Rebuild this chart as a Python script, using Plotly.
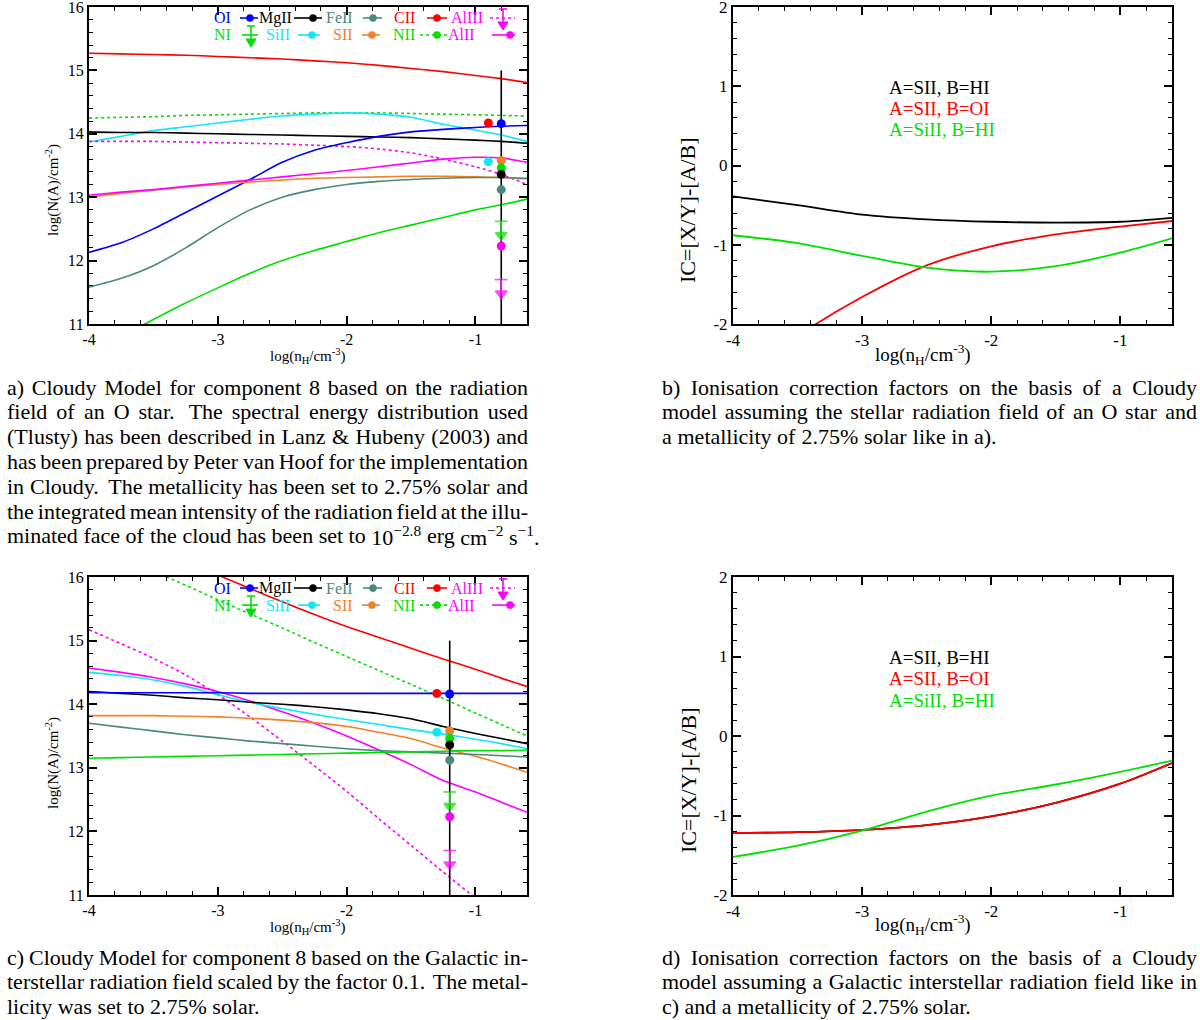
import json
import plotly.graph_objects as go

SERIF = "Liberation Serif"
W, H = 1200, 1020

# ---------------- data ----------------
grid = [-4.0, -3.75, -3.5, -3.25, -3.0, -2.75, -2.5, -2.25, -2.0, -1.75, -1.5, -1.25, -1.0, -0.8, -0.6]

# a) O star radiation field, log N(A)
a_OI = [12.13, 12.28, 12.50, 12.76, 13.02, 13.28, 13.55, 13.74, 13.86, 13.96, 14.03, 14.07, 14.10, 14.12, 14.13]
a_MgII = [14.03, 14.02, 14.02, 14.01, 14.00, 13.99, 13.98, 13.97, 13.96, 13.95, 13.94, 13.92, 13.90, 13.88, 13.85]
a_FeII = [11.58, 11.72, 11.92, 12.20, 12.52, 12.80, 13.00, 13.12, 13.20, 13.25, 13.28, 13.30, 13.31, 13.31, 13.30]
a_CII = [15.27, 15.26, 15.25, 15.24, 15.22, 15.20, 15.18, 15.15, 15.12, 15.08, 15.03, 14.98, 14.92, 14.87, 14.81]
a_AlIII = [13.88, 13.88, 13.88, 13.87, 13.86, 13.85, 13.84, 13.82, 13.80, 13.76, 13.70, 13.60, 13.48, 13.36, 13.20]
a_NI = [10.55, 10.80, 11.07, 11.33, 11.57, 11.80, 12.00, 12.16, 12.30, 12.44, 12.56, 12.68, 12.80, 12.88, 12.97]
a_SiII = [13.87, 13.96, 14.05, 14.11, 14.17, 14.23, 14.28, 14.31, 14.33, 14.31, 14.26, 14.15, 14.06, 13.98, 13.88]
a_SII = [13.00, 13.06, 13.11, 13.16, 13.20, 13.24, 13.27, 13.30, 13.31, 13.32, 13.33, 13.33, 13.32, 13.31, 13.29]
a_NII = [14.25, 14.26, 14.27, 14.29, 14.30, 14.31, 14.32, 14.33, 14.33, 14.33, 14.32, 14.31, 14.30, 14.29, 14.28]
a_AlII = [13.03, 13.08, 13.12, 13.17, 13.22, 13.27, 13.32, 13.37, 13.42, 13.48, 13.54, 13.60, 13.63, 13.62, 13.55]

# c) Galactic ISRF x 0.1, log N(A)
c_OI = [14.18, 14.18, 14.18, 14.18, 14.18, 14.17, 14.17, 14.17, 14.17, 14.17, 14.17, 14.17, 14.17, 14.17, 14.17]
c_MgII = [14.20, 14.17, 14.14, 14.10, 14.07, 14.03, 14.00, 13.96, 13.91, 13.85, 13.77, 13.65, 13.54, 13.46, 13.38]
c_FeII = [13.70, 13.64, 13.58, 13.52, 13.47, 13.42, 13.38, 13.34, 13.30, 13.27, 13.25, 13.23, 13.21, 13.19, 13.17]
c_CII = [16.85, 16.65, 16.45, 16.24, 16.03, 15.82, 15.61, 15.41, 15.22, 15.05, 14.88, 14.71, 14.55, 14.41, 14.28]
c_AlIII = [15.17, 14.95, 14.72, 14.46, 14.15, 13.80, 13.42, 13.03, 12.63, 12.20, 11.78, 11.36, 10.95, 10.60, 10.25]
c_NI = [13.15, 13.16, 13.17, 13.18, 13.19, 13.20, 13.21, 13.22, 13.23, 13.24, 13.25, 13.26, 13.27, 13.27, 13.28]
c_SiII = [14.50, 14.45, 14.38, 14.28, 14.15, 14.03, 13.93, 13.84, 13.76, 13.68, 13.60, 13.53, 13.45, 13.38, 13.30]
c_SII = [13.82, 13.82, 13.82, 13.81, 13.80, 13.78, 13.75, 13.71, 13.65, 13.56, 13.46, 13.31, 13.18, 13.06, 12.93]
c_NII = [16.53, 16.31, 16.09, 15.87, 15.64, 15.42, 15.20, 14.97, 14.75, 14.53, 14.31, 14.09, 13.86, 13.68, 13.50]
c_AlII = [14.57, 14.50, 14.42, 14.32, 14.20, 14.05, 13.88, 13.70, 13.50, 13.28, 13.05, 12.80, 12.62, 12.46, 12.30]

# observed column densities (same for a and c)
obs_ions = ["OI", "CII", "SiII", "SII", "NII", "MgII", "FeII", "AlII"]
obs_logN = [14.16, 14.17, 13.56, 13.58, 13.46, 13.36, 13.12, 12.23]
obs_x_a = [-0.8, -0.9, -0.9, -0.8, -0.8, -0.8, -0.8, -0.8]
obs_x_c = [-1.2, -1.3, -1.3, -1.2, -1.2, -1.2, -1.2, -1.2]
lim_ions = ["NI", "AlIII"]
lim_logN = [12.62, 11.70]
nh_a = [-0.8, -0.8]
nh_c = [-1.2, -1.2]
nh_span = [15.0, 11.0]

# b) and d) ionisation corrections
grid_ic = [-4.0, -3.5, -3.0, -2.5, -2.0, -1.5, -1.0, -0.6]
b_SII_HI = [-0.39, -0.50, -0.62, -0.68, -0.71, -0.72, -0.71, -0.66]
b_SII_OI = [-2.75, -2.15, -1.66, -1.26, -1.02, -0.87, -0.77, -0.70]
b_SiII_HI = [-0.88, -0.98, -1.14, -1.29, -1.34, -1.27, -1.10, -0.92]
d_SII_HI = [-1.22, -1.21, -1.18, -1.12, -1.01, -0.84, -0.60, -0.34]
d_SII_OI = [-1.22, -1.21, -1.18, -1.12, -1.01, -0.84, -0.60, -0.34]
d_SiII_HI = [-1.52, -1.38, -1.19, -0.95, -0.75, -0.61, -0.45, -0.31]

# ---------------- styles ----------------
BLUE, BLACK, TEAL, RED = "#0000ff", "#000000", "#4a8a7e", "#ff0000"
MAGENTA, GREEN, CYAN, ORANGE = "#ff00ff", "#00e000", "#10e8f8", "#f0822a"
ion_color = {"OI": BLUE, "MgII": BLACK, "FeII": TEAL, "CII": RED, "AlIII": MAGENTA,
             "NI": GREEN, "SiII": CYAN, "SII": ORANGE, "NII": GREEN, "AlII": MAGENTA}
ion_dash = {"AlIII": "dot", "NII": "dot"}

fig = go.Figure()


def model_lines(series, xs, xa, ya):
    for ion, ys in series:
        fig.add_trace(go.Scatter(x=xs, y=ys, mode="lines", xaxis=xa, yaxis=ya,
                                 line=dict(color=ion_color[ion], width=1.6,
                                           dash=ion_dash.get(ion, "solid"),
                                           shape="spline", smoothing=0.7),
                                 showlegend=False, hoverinfo="skip"))


def observations(xobs, xline, xa, ya):
    fig.add_trace(go.Scatter(x=xline, y=nh_span, mode="lines", xaxis=xa, yaxis=ya,
                             line=dict(color="black", width=1.6), showlegend=False))
    for ion, lim in zip(lim_ions, lim_logN):
        c = ion_color[ion]
        fig.add_trace(go.Scatter(x=[xline[0], xline[0]], y=[lim, lim - 0.22], mode="lines+markers",
                                 xaxis=xa, yaxis=ya, line=dict(color=c, width=1.6),
                                 marker=dict(symbol=["line-ew", "triangle-down"], size=[9, 10],
                                             color=c, line=dict(color=c, width=1.6)),
                                 showlegend=False))
    fig.add_trace(go.Scatter(x=xobs, y=obs_logN, mode="markers", xaxis=xa, yaxis=ya,
                             marker=dict(size=9, color=[ion_color[i] for i in obs_ions]),
                             showlegend=False))


model_lines([("CII", a_CII), ("NII", a_NII), ("SiII", a_SiII), ("MgII", a_MgII), ("AlIII", a_AlIII),
             ("OI", a_OI), ("SII", a_SII), ("AlII", a_AlII), ("FeII", a_FeII), ("NI", a_NI)],
            grid, "x", "y")
observations(obs_x_a, nh_a, "x", "y")
model_lines([("CII", c_CII), ("NII", c_NII), ("AlIII", c_AlIII), ("AlII", c_AlII), ("SiII", c_SiII),
             ("MgII", c_MgII), ("OI", c_OI), ("SII", c_SII), ("FeII", c_FeII), ("NI", c_NI)],
            grid, "x3", "y3")
observations(obs_x_c, nh_c, "x3", "y3")

for xa, ya, series in [("x2", "y2", [(BLACK, b_SII_HI), (RED, b_SII_OI), (GREEN, b_SiII_HI)]),
                       ("x4", "y4", [(BLACK, d_SII_HI), (RED, d_SII_OI), (GREEN, d_SiII_HI)])]:
    for col, ys in series:
        fig.add_trace(go.Scatter(x=grid_ic, y=ys, mode="lines", xaxis=xa, yaxis=ya,
                                 line=dict(color=col, width=1.8, shape="spline", smoothing=0.8),
                                 showlegend=False))


# ---------------- axes ----------------
def px_dom(p0, p1, n):
    return [p0 / n, p1 / n]


def axis(dom, rng, vals, anchor, size=16):
    return dict(domain=dom, range=rng, anchor=anchor, automargin=False,
                ticklabeloverflow="allow",
                tickmode="array", tickvals=vals,
                ticktext=[f"{v:g}" for v in vals], ticks="inside", ticklen=8, tickwidth=1.5,
                tickcolor="black", showline=True, linecolor="black", linewidth=2,
                mirror="allticks", showgrid=False, zeroline=False,
                minor=dict(ticks="inside", ticklen=4, tickwidth=1.2, tickcolor="black",
                           tickmode="linear", tick0=0, dtick=0.2, showgrid=False),
                tickfont=dict(family=SERIF, size=size, color="black"))


xl, xr = 89, 527
xl2, xr2 = 733, 1172
top1, bot1 = 7, 324
top2, bot2 = 577, 895
y_top = [1 - bot1 / H, 1 - top1 / H]
y_bot = [1 - bot2 / H, 1 - top2 / H]
xt = [-4, -3, -2, -1]

fig.update_layout(
    xaxis=axis(px_dom(xl, xr, W), [-4, -0.6], xt, "y"),
    yaxis=axis(y_top, [11, 16], [11, 12, 13, 14, 15, 16], "x"),
    xaxis2=axis(px_dom(xl2, xr2, W), [-4, -0.6], xt, "y2", 17),
    yaxis2=axis(y_top, [-2, 2], [-2, -1, 0, 1, 2], "x2", 17),
    xaxis3=axis(px_dom(xl, xr, W), [-4, -0.6], xt, "y3"),
    yaxis3=axis(y_bot, [11, 16], [11, 12, 13, 14, 15, 16], "x3"),
    xaxis4=axis(px_dom(xl2, xr2, W), [-4, -0.6], xt, "y4", 17),
    yaxis4=axis(y_bot, [-2, 2], [-2, -1, 0, 1, 2], "x4", 17),
    width=W, height=H, margin=dict(l=0, r=0, t=0, b=0, autoexpand=False),
    paper_bgcolor="white", plot_bgcolor="white", showlegend=False,
)


def label(text, xp, yp, size, angle=0, color="black"):
    fig.add_annotation(text=text, x=xp / W, y=1 - yp / H, xref="paper", yref="paper",
                       showarrow=False, textangle=angle, xanchor="center", yanchor="middle",
                       font=dict(family=SERIF, size=size, color=color))


xlab = "log(n<sub>H</sub>/cm<sup>-3</sup>)"
ylab = "log(N(A)/cm<sup>-2</sup>)"
label(xlab, 308, 356, 15)
label(xlab, 308, 927, 15)
label(ylab, 52, 190, 15, -90)
label(ylab, 52, 763, 15, -90)
label(xlab, 923, 354, 19)
label(xlab, 923, 924, 19)
label("IC=[X/Y]-[A/B]", 688, 210, 22, -90)
label("IC=[X/Y]-[A/B]", 688, 780, 22, -90)

# ratio labels in b) and d)
ratio_text = ["A=SII, B=HI", "A=SII, B=OI", "A=SiII, B=HI"]
ratio_col = [BLACK, RED, GREEN]
ratio_y = [0.99, 0.72, 0.45]
for xa, ya in [("x2", "y2"), ("x4", "y4")]:
    for t, c, yv in zip(ratio_text, ratio_col, ratio_y):
        fig.add_annotation(text=t, x=-2.81, y=yv, xref=xa, yref=ya, xanchor="left",
                           yanchor="middle", showarrow=False,
                           font=dict(family=SERIF, size=19, color=c))

# ---------------- hand-drawn key in a) and c) ----------------
PW, PH = xr - xl, bot1 - top1
# (ion, text right edge, segment start, segment end, dot / arrow position, row)
key = [("OI", 144, 151, 169, 161, 0), ("MgII", 205, 205, 233, 224, 0),
       ("FeII", 266, 274, 293, 284, 0), ("CII", 328, 338, 358, 348, 0),
       ("AlIII", 396, 401, 426, 414, 0),
       ("NI", 144, 153, 169, 162, 1), ("SiII", 203, 209, 231, 223, 1),
       ("SII", 266, 273, 291, 283, 1), ("NII", 328, 331, 358, 348, 1),
       ("AlII", 388, 403, 426, 421, 1)]
row_y = [11, 28]


def draw_key(xa, ya):
    xd, yd = xa + " domain", ya + " domain"
    fx = lambda p: p / PW
    fy = lambda p: 1 - p / PH
    for ion, tr, s0, s1, d, row in key:
        c = ion_color[ion]
        yy = row_y[row]
        fig.add_annotation(text=ion, x=fx(tr), y=fy(yy), xref=xd, yref=yd, xanchor="right",
                           yanchor="middle", showarrow=False,
                           font=dict(family=SERIF, size=16, color=c))
        dash = "dot" if ion in ion_dash else "solid"
        fig.add_shape(type="line", xref=xd, yref=yd, x0=fx(s0), x1=fx(s1), y0=fy(yy), y1=fy(yy),
                      line=dict(color=c, width=1.6, dash=dash))
        if ion in lim_ions:
            cap, tip = yy - 9, yy + 12
            fig.add_shape(type="line", xref=xd, yref=yd, x0=fx(d), x1=fx(d), y0=fy(cap), y1=fy(tip - 6),
                          line=dict(color=c, width=1.6))
            fig.add_shape(type="line", xref=xd, yref=yd, x0=fx(d - 4), x1=fx(d + 4), y0=fy(cap), y1=fy(cap),
                          line=dict(color=c, width=1.6))
            path = (f"M {fx(d - 5)},{fy(tip - 8)} L {fx(d + 5)},{fy(tip - 8)} "
                    f"L {fx(d)},{fy(tip)} Z")
            fig.add_shape(type="path", xref=xd, yref=yd, path=path, fillcolor=c,
                          line=dict(color=c, width=1))
        else:
            r = 3.6
            fig.add_shape(type="circle", xref=xd, yref=yd, x0=fx(d - r), x1=fx(d + r),
                          y0=fy(yy + r), y1=fy(yy - r), fillcolor=c, line=dict(color=c, width=0.5))


draw_key("x", "y")
draw_key("x3", "y3")

# ---------------- captions: one annotation per word, justified in the page ----------------
CAP_SIZE = 22
caption_lines = []  # [word annotation indices, left px, right px, justify, gap weights]


def paragraph(lines, x0, x1, y0, lead=24.8):
    for k, line in enumerate(lines):
        words = line.split()
        idx, x = [], x0
        for wd in words:
            idx.append(len(fig.layout.annotations))
            fig.add_annotation(text=wd.replace("&", "&amp;"), x=x / W, y=1 - (y0 + k * lead) / H,
                               xref="paper", yref="paper", xanchor="left", yanchor="middle",
                               showarrow=False,
                               font=dict(family=SERIF, size=CAP_SIZE, color="black"))
            x += 0.5 * CAP_SIZE * len(wd) + 6
        weights = [1.6 if wd.endswith(".") else 1.0 for wd in words[:-1]]
        caption_lines.append([idx, x0, x1, 1 if k < len(lines) - 1 else 0, weights])


paragraph(["a) Cloudy Model for component 8 based on the radiation",
           "field of an O star. The spectral energy distribution used",
           "(Tlusty) has been described in Lanz & Hubeny (2003) and",
           "has been prepared by Peter van Hoof for the implementation",
           "in Cloudy. The metallicity has been set to 2.75% solar and",
           "the integrated mean intensity of the radiation field at the illu-",
           "minated face of the cloud has been set to 10<sup>\u22122.8</sup> erg cm<sup>\u22122</sup> s<sup>\u22121</sup>."],
          7, 528, 387)
paragraph(["b) Ionisation correction factors on the basis of a Cloudy",
           "model assuming the stellar radiation field of an O star and",
           "a metallicity of 2.75% solar like in a)."],
          662, 1197, 387)
paragraph(["c) Cloudy Model for component 8 based on the Galactic in-",
           "terstellar radiation field scaled by the factor 0.1. The metal-",
           "licity was set to 2.75% solar."],
          7, 528, 957)
paragraph(["d) Ionisation correction factors on the basis of a Cloudy",
           "model assuming a Galactic interstellar radiation field like in",
           "c) and a metallicity of 2.75% solar."],
          662, 1197, 957)

# place the words of every caption line from their measured widths
align_js = """
document.body.style.margin='0px';
document.documentElement.style.overflow='hidden';
document.body.style.overflow='hidden';
var gd = document.getElementById('{plot_id}');
var specs = SPECS;
var space = SPACE;
specs.forEach(function(s) {
  var ts = [];
  for (var i = 0; i < s[0].length; i++) {
    var g = gd.querySelector('g.annotation[data-index="' + s[0][i] + '"]');
    var t = g ? g.querySelector('text.annotation-text') : null;
    if (!t) { return; }
    ts.push(t);
  }
  var rs = ts.map(function(t) { return t.getBoundingClientRect(); });
  var total = 0;
  rs.forEach(function(r) { total += r.width; });
  var wsum = 0;
  s[4].forEach(function(w) { wsum += w; });
  var unit = (s[3] && wsum > 0) ? (s[2] - s[1] - total) / wsum : space;
  var x = s[1];
  ts.forEach(function(t, j) {
    var dx = x - rs[j].left;
    t.setAttribute('transform', (t.getAttribute('transform') || '') + ' translate(' + dx + ',0)');
    x += rs[j].width + (j < s[4].length ? (s[3] ? s[4][j] : 1) * unit : 0);
  });
});
""".replace("SPECS", json.dumps(caption_lines)).replace("SPACE", str(0.25 * CAP_SIZE))

fig.write_html("out.html", config={"displayModeBar": False}, post_script=align_js)
